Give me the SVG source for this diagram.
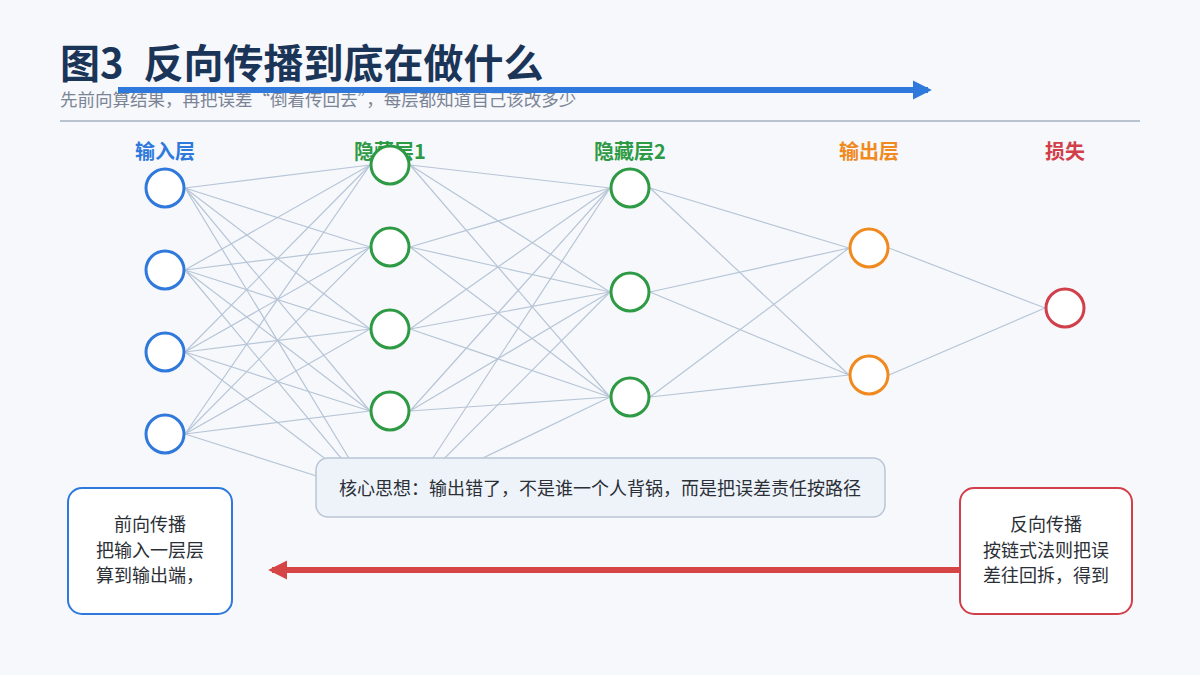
<svg xmlns="http://www.w3.org/2000/svg" width="1200" height="675" viewBox="0 0 1200 675">
<defs>
<style>
.title{font-family:"Noto Sans CJK SC","Noto Sans",sans-serif;font-weight:700;font-size:40px;fill:#1b3558}
.sub{font-family:"Noto Sans CJK SC","Noto Sans",sans-serif;font-size:17.5px;fill:#7b8494}
.lab{font-family:"Noto Sans CJK SC","Noto Sans",sans-serif;font-weight:700;font-size:20px;text-anchor:middle}
.txt{font-family:"Noto Sans CJK SC","Noto Sans",sans-serif;font-size:18px;fill:#2b2f36;text-anchor:middle}
.edge{stroke:#b7c5d6;stroke-width:1.2;fill:none}
.n{fill:#ffffff;stroke-width:3}
.in{stroke:#2f78dc}.hid{stroke:#2e9a44}.out{stroke:#f08a1e}.loss{stroke:#d13f4a}
</style>
<marker id="ab" viewBox="0 0 10 10" refX="8" refY="5" markerWidth="3.2" markerHeight="3.2" orient="auto"><path d="M0,0 L10,5 L0,10 z" fill="#2f78dc"/></marker>
<marker id="ar" viewBox="0 0 10 10" refX="8" refY="5" markerWidth="3.2" markerHeight="3.2" orient="auto"><path d="M0,0 L10,5 L0,10 z" fill="#d64545"/></marker>
</defs>
<rect width="1200" height="675" fill="#f6f8fc"/>
<text class="title" x="60" y="78">图3<tspan dx="20">反向传播到底在做什么</tspan></text>
<text class="sub" x="60" y="106">先前向算结果，再把误差“倒着传回去”，每层都知道自己该改多少</text>
<line x1="60" y1="121" x2="1140" y2="121" stroke="#b9c3d0" stroke-width="2"/>
<g id="connectors">
<g class="edge">
<path d="M185,188L370,165M185,188L370,247M185,188L370,329M185,188L370,411M185,188L370,493"/>
<path d="M185,270L370,165M185,270L370,247M185,270L370,329M185,270L370,411M185,270L370,493"/>
<path d="M185,352L370,165M185,352L370,247M185,352L370,329M185,352L370,411M185,352L370,493"/>
<path d="M185,434L370,165M185,434L370,247M185,434L370,329M185,434L370,411M185,434L370,493"/>
<path d="M410,165L610,188M410,165L610,292M410,165L610,397"/>
<path d="M410,247L610,188M410,247L610,292M410,247L610,397"/>
<path d="M410,329L610,188M410,329L610,292M410,329L610,397"/>
<path d="M410,411L610,188M410,411L610,292M410,411L610,397"/>
<path d="M410,493L610,188M410,493L610,292M410,493L610,397"/>
<path d="M650,188L849,248M650,188L849,375M650,292L849,248M650,292L849,375M650,397L849,248M650,397L849,375"/>
<path d="M889,248L1045,308M889,375L1045,308"/>
</g>
<line id="fwd-arrow" x1="118" y1="90" x2="928" y2="90" stroke="#2f78dc" stroke-width="6" marker-end="url(#ab)"/>
<line id="bwd-arrow" x1="962" y1="570" x2="272" y2="570" stroke="#d64545" stroke-width="6" marker-end="url(#ar)"/>
</g>
<g id="labels">
<text class="lab" x="165" y="159" fill="#2f78dc">输入层</text>
<text class="lab" x="390" y="159" fill="#2e9a44">隐藏层1</text>
<text class="lab" x="630" y="159" fill="#2e9a44">隐藏层2</text>
<text class="lab" x="869" y="159" fill="#f08a1e">输出层</text>
<text class="lab" x="1065" y="159" fill="#d13f4a">损失</text>
</g>
<g id="input-layer">
<circle class="n in" cx="165" cy="188" r="19"/>
<circle class="n in" cx="165" cy="270" r="19"/>
<circle class="n in" cx="165" cy="352" r="19"/>
<circle class="n in" cx="165" cy="434" r="19"/>
</g>
<g id="hidden-layer-1">
<circle class="n hid" cx="390" cy="165" r="19"/>
<circle class="n hid" cx="390" cy="247" r="19"/>
<circle class="n hid" cx="390" cy="329" r="19"/>
<circle class="n hid" cx="390" cy="411" r="19"/>
</g>
<g id="hidden-layer-2">
<circle class="n hid" cx="630" cy="188" r="19"/>
<circle class="n hid" cx="630" cy="292" r="19"/>
<circle class="n hid" cx="630" cy="397" r="19"/>
</g>
<g id="output-layer">
<circle class="n out" cx="869" cy="248" r="19"/>
<circle class="n out" cx="869" cy="375" r="19"/>
</g>
<g id="loss">
<circle class="n loss" cx="1065" cy="308" r="19"/>
</g>
<g id="core-idea">
<rect x="316" y="458" width="569" height="59" rx="12" fill="#eef3fa" stroke="#b9c5d5" stroke-width="1.5"/>
<text class="txt" x="600" y="495" fill="#2a3548">核心思想：输出错了，不是谁一个人背锅，而是把误差责任按路径</text>
</g>
<g id="forward-box">
<rect x="68" y="488" width="164" height="126" rx="14" fill="#ffffff" stroke="#2f78dc" stroke-width="2"/>
<text class="txt" x="150" y="531">前向传播</text>
<text class="txt" x="150" y="557">把输入一层层</text>
<text class="txt" x="150" y="582">算到输出端，</text>
</g>
<g id="backward-box">
<rect x="960" y="488" width="172" height="126" rx="14" fill="#ffffff" stroke="#d13f4a" stroke-width="2"/>
<text class="txt" x="1046" y="531">反向传播</text>
<text class="txt" x="1046" y="557">按链式法则把误</text>
<text class="txt" x="1046" y="582">差往回拆，得到</text>
</g>
</svg>
